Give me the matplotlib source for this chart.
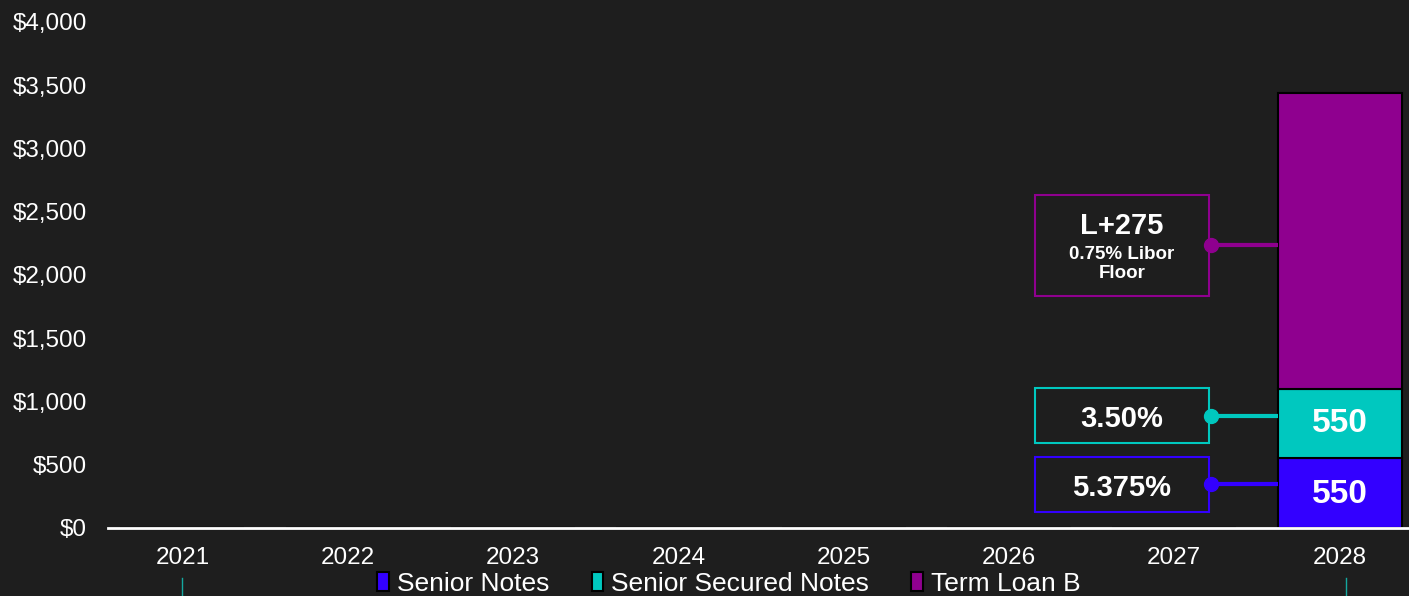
import matplotlib
matplotlib.use("Agg")
import matplotlib.pyplot as plt
from matplotlib.patches import Rectangle
from matplotlib.lines import Line2D
from matplotlib.ticker import FuncFormatter

plt.rcParams["font.family"] = ["Liberation Sans", "DejaVu Sans"]

# ---- data ----
years = ["2021", "2022", "2023", "2024", "2025", "2026", "2027", "2028"]
series_names = ["Senior Notes", "Senior Secured Notes", "Term Loan B"]
senior_notes = [0, 0, 0, 0, 0, 0, 0, 550]
senior_secured = [0, 0, 0, 0, 0, 0, 0, 550]
term_loan_b = [0, 0, 0, 0, 0, 0, 0, 2340]
rate_labels = ["5.375%", "3.50%", "L+275"]
rate_sublabel = "0.75% Libor\nFloor"

# ---- style ----
BG = "#1e1e1e"
colors = ["#3300ff", "#00c8bf", "#8f008f"]

W, H = 1409, 596
fig = plt.figure(figsize=(W / 100, H / 100), dpi=100, facecolor=BG)
ax = fig.add_axes([108 / W, (H - 528) / H, 1 - 108 / W, (528 - 22) / H])
ax.set_facecolor(BG)

x = list(range(len(years)))
bw = 0.75
ax.bar(x, senior_notes, bw, color=colors[0], edgecolor="black", linewidth=1.5,
       label=series_names[0], zorder=3)
bottom2 = senior_notes
ax.bar(x, senior_secured, bw, bottom=bottom2, color=colors[1], edgecolor="black", linewidth=1.5,
       label=series_names[1], zorder=3)
bottom3 = [a + b for a, b in zip(senior_notes, senior_secured)]
ax.bar(x, term_loan_b, bw, bottom=bottom3, color=colors[2], edgecolor="black", linewidth=1.5,
       label=series_names[2], zorder=3)

# value labels inside the lower two segments
for i in x:
    if senior_notes[i]:
        ax.text(i, senior_notes[i] / 2 - 10, f"{senior_notes[i]:,}", ha="center", va="center",
                color="white", fontsize=24, fontweight="bold", zorder=5)
    if senior_secured[i]:
        ax.text(i, bottom2[i] + senior_secured[i] / 2, f"{senior_secured[i]:,}", ha="center",
                va="center", color="white", fontsize=24, fontweight="bold", zorder=5)

ax.set_xlim(-0.45, 7.42)
ax.set_ylim(0, 4000)
ax.set_yticks(range(0, 4001, 500))
ax.yaxis.set_major_formatter(FuncFormatter(lambda v, p: f"${v:,.0f}"))
ax.set_xticks(x)
ax.set_xticklabels(years)
ax.tick_params(axis="both", length=0, colors="white", labelsize=17.5)
ax.tick_params(axis="y", pad=15)
ax.tick_params(axis="x", pad=13.5)
for s in ["top", "right", "left"]:
    ax.spines[s].set_visible(False)
ax.spines["bottom"].set_color("white")
ax.spines["bottom"].set_linewidth(2)
ax.spines["bottom"].set_zorder(4)

# ---- rate callouts to the left of the last bar ----
last = len(years) - 1
box_left, box_right = last - 1.843, last - 0.791
dot_x = last - 0.78
callouts = [
    # (colour, box bottom, box top, connector y)
    (colors[0], 126, 561, 348),
    (colors[1], 672, 1107, 885),
    (colors[2], 1834, 2632, 2237),
]
for (c, y0, y1, yc) in callouts:
    ax.add_patch(Rectangle((box_left, y0), box_right - box_left, y1 - y0, fill=False,
                           edgecolor=c, linewidth=1.5, zorder=4))
    ax.plot([dot_x, last - bw / 2], [yc, yc], color=c, lw=3, zorder=4, solid_capstyle="butt")
    ax.plot([dot_x], [yc], "o", color=c, ms=10, zorder=5)

cx = (box_left + box_right) / 2
ax.text(cx, 319, rate_labels[0], ha="center", va="center", color="white", fontsize=21, fontweight="bold")
ax.text(cx, 864, rate_labels[1], ha="center", va="center", color="white", fontsize=21, fontweight="bold")
ax.text(cx, 2390, rate_labels[2], ha="center", va="center", color="white", fontsize=21, fontweight="bold")
ax.text(cx, 2085, rate_sublabel, ha="center", va="center", color="white", fontsize=13.5,
        fontweight="bold", linespacing=1.15)

# ---- legend ----
handles = [Rectangle((0, 0), 1, 1, facecolor=c, edgecolor="black", linewidth=1.5) for c in colors]
leg = fig.legend(handles, series_names, loc="center", bbox_to_anchor=(729 / W, (H - 584) / H),
                 ncol=3, frameon=False, fontsize=19, handlelength=0.45, handleheight=0.75,
                 handletextpad=0.3, columnspacing=1.6, borderpad=0)
for t in leg.get_texts():
    t.set_color("white")

# thin marker lines beneath the axis
for px in (182, 1346):
    fig.add_artist(Line2D([px / W, px / W], [0, (H - 578) / H], color="#14a8a0", lw=1))

fig.savefig("out.png", dpi=100, facecolor=BG)
